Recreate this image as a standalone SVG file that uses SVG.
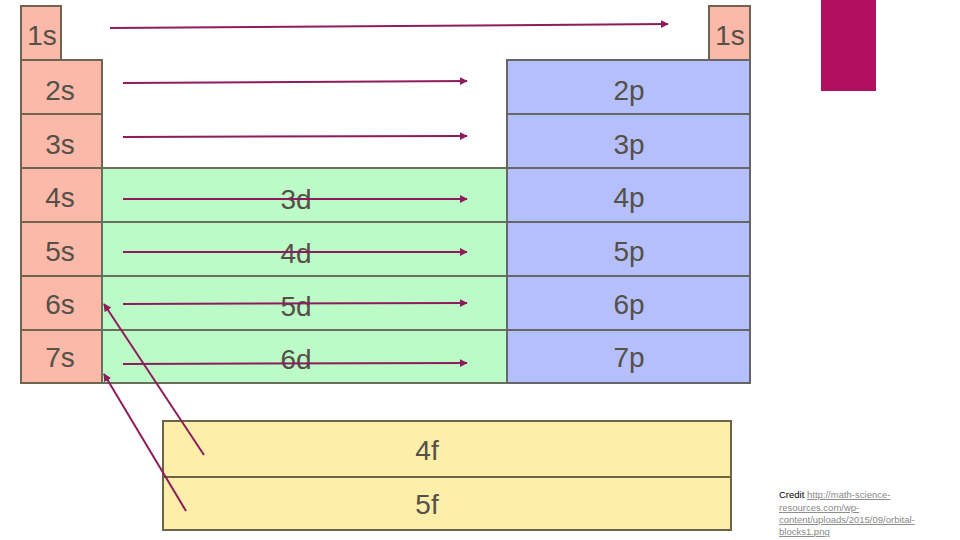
<svg xmlns="http://www.w3.org/2000/svg" width="960" height="540" viewBox="0 0 960 540">
<defs>
<style>
.s{fill:#fbbaa9;stroke:#6e6550;stroke-width:2}
.p{fill:#b4bffb;stroke:#666;stroke-width:2}
.d{fill:#bcfbc8;stroke:#66705a;stroke-width:2}
.f{fill:#fdeeaa;stroke:#6b6447;stroke-width:2}
.t{font-family:"Liberation Sans",Arial,sans-serif;font-size:28px;fill:#555048;text-anchor:middle}
.a{stroke:#8d1c5c;stroke-width:2;fill:none;marker-end:url(#ah)}
.cr{font-family:"Liberation Sans",Arial,sans-serif;font-size:9.5px}
</style>
<marker id="ah" viewBox="0 0 10 10" refX="9" refY="5" markerWidth="4" markerHeight="4" orient="auto" markerUnits="strokeWidth">
<path d="M0,0 L10,5 L0,10 z" fill="#8d1c5c"/>
</marker>
</defs>
<rect x="821" y="0" width="55" height="91" fill="#b0105f"/>
<g id="s-block">
<g id="n1s"><rect class="s" x="21" y="6" width="40" height="54"/><text class="t" x="42" y="45">1s</text></g>
<g id="n2s"><rect class="s" x="21" y="60" width="81" height="54"/><text class="t" x="60" y="100">2s</text></g>
<g id="n3s"><rect class="s" x="21" y="114" width="81" height="54"/><text class="t" x="60" y="154">3s</text></g>
<g id="n4s"><rect class="s" x="21" y="168" width="81" height="54"/><text class="t" x="60" y="207">4s</text></g>
<g id="n5s"><rect class="s" x="21" y="222" width="81" height="54"/><text class="t" x="60" y="261">5s</text></g>
<g id="n6s"><rect class="s" x="21" y="276" width="81" height="54"/><text class="t" x="60" y="314">6s</text></g>
<g id="n7s"><rect class="s" x="21" y="330" width="81" height="53"/><text class="t" x="60" y="367">7s</text></g>
</g>
<g id="d-block">
<g id="n3d"><rect class="d" x="102" y="168" width="405" height="54"/><text class="t" x="296" y="209">3d</text></g>
<g id="n4d"><rect class="d" x="102" y="222" width="405" height="54"/><text class="t" x="296" y="263">4d</text></g>
<g id="n5d"><rect class="d" x="102" y="276" width="405" height="54"/><text class="t" x="296" y="316">5d</text></g>
<g id="n6d"><rect class="d" x="102" y="330" width="405" height="53"/><text class="t" x="296" y="369">6d</text></g>
</g>
<g id="p-block">
<g id="n1s-he"><rect class="s" x="709" y="6" width="41" height="54"/><text class="t" x="730" y="45">1s</text></g>
<g id="n2p"><rect class="p" x="507" y="60" width="243" height="54"/><text class="t" x="629" y="100">2p</text></g>
<g id="n3p"><rect class="p" x="507" y="114" width="243" height="54"/><text class="t" x="629" y="154">3p</text></g>
<g id="n4p"><rect class="p" x="507" y="168" width="243" height="54"/><text class="t" x="629" y="207">4p</text></g>
<g id="n5p"><rect class="p" x="507" y="222" width="243" height="54"/><text class="t" x="629" y="261">5p</text></g>
<g id="n6p"><rect class="p" x="507" y="276" width="243" height="54"/><text class="t" x="629" y="314">6p</text></g>
<g id="n7p"><rect class="p" x="507" y="330" width="243" height="53"/><text class="t" x="629" y="367">7p</text></g>
</g>
<g id="f-block">
<g id="n4f"><rect class="f" x="163" y="421" width="568" height="56"/><text class="t" x="427" y="460">4f</text></g>
<g id="n5f"><rect class="f" x="163" y="477" width="568" height="53"/><text class="t" x="427" y="514">5f</text></g>
</g>
<g id="connectors">
<path class="a" d="M110,28 L668,24"/>
<path class="a" d="M123,83 L467,81"/>
<path class="a" d="M123,137 L467,136"/>
<path class="a" d="M123,199 L467,199"/>
<path class="a" d="M123,252 L467,252"/>
<path class="a" d="M123,304 L467,303"/>
<path class="a" d="M123,364 L467,363"/>
<path class="a" d="M204,455 L104,304"/>
<path class="a" d="M186,511 L104,374"/>
</g>
<g id="credit">
<text class="cr" x="779" y="498"><tspan fill="#000">Credit </tspan><tspan fill="#888" text-decoration="underline">http://math-science-</tspan></text>
<text class="cr" x="779" y="511" fill="#888" text-decoration="underline">resources.com/wp-</text>
<text class="cr" x="779" y="523" fill="#888" text-decoration="underline">content/uploads/2015/09/orbital-</text>
<text class="cr" x="779" y="535" fill="#888" text-decoration="underline">blocks1.png</text>
</g>
</svg>
